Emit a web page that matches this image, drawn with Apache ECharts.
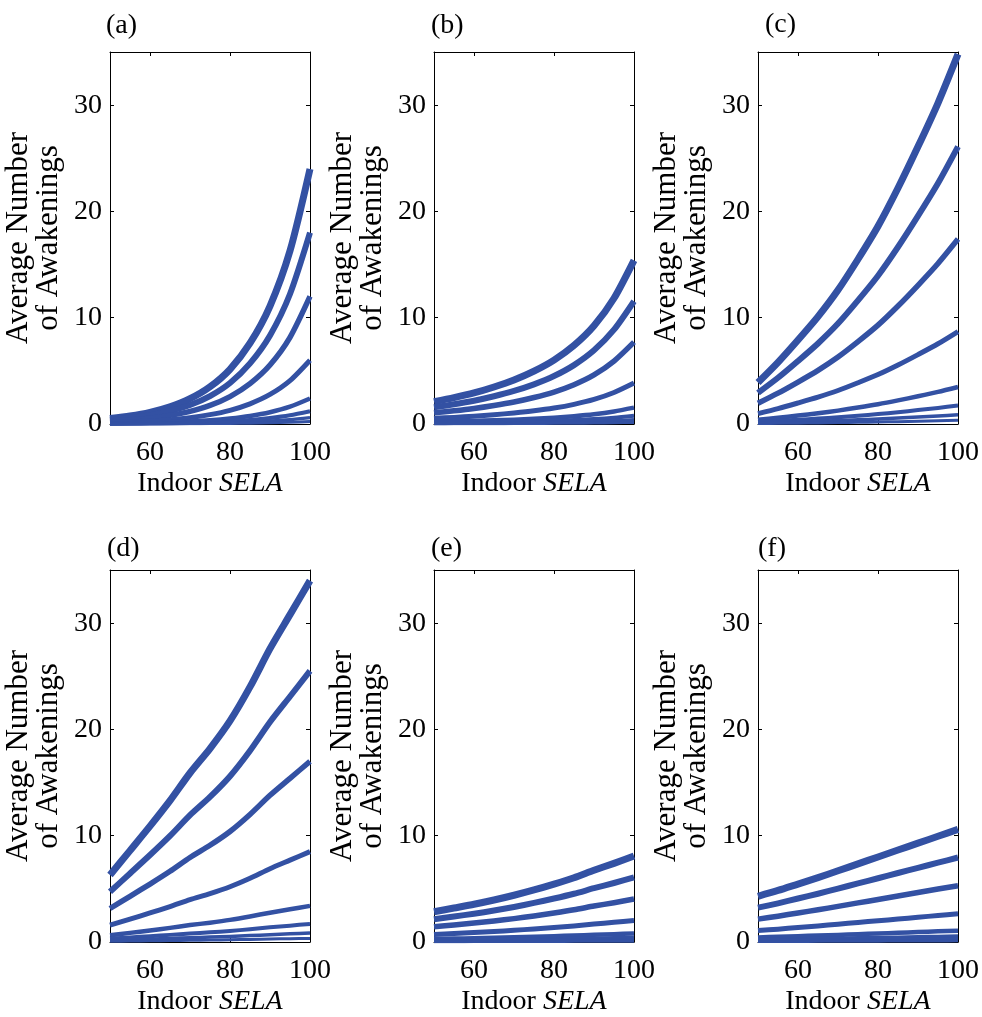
<!DOCTYPE html>
<html>
<head>
<meta charset="utf-8">
<script src="https://cdn.jsdelivr.net/npm/echarts@6/dist/echarts.min.js"></script>
<style>
  html, body { margin: 0; padding: 0; background: #fff; }
  #chart { width: 982px; height: 1017px; }
</style>
</head>
<body>
<div id="chart"></div>
<script>
// Indoor SELA (dB) sample points shared by every curve
const sela = [50, 55, 60, 65, 70, 75, 80, 85, 90, 95, 100];

// Average number of awakenings, eight curves per panel (top to bottom)
const panelA = [
  [0.51, 0.75, 1.1, 1.62, 2.38, 3.5, 5.15, 7.6, 11.1, 16.3, 24.0],
  [0.38, 0.56, 0.83, 1.22, 1.79, 2.63, 3.86, 5.7, 8.33, 12.23, 18.0],
  [0.26, 0.38, 0.55, 0.81, 1.19, 1.75, 2.58, 3.8, 5.55, 8.15, 12.0],
  [0.13, 0.19, 0.28, 0.41, 0.6, 0.88, 1.29, 1.9, 2.78, 4.08, 6.0],
  [0.05, 0.08, 0.11, 0.16, 0.24, 0.35, 0.52, 0.76, 1.11, 1.63, 2.4],
  [0.03, 0.04, 0.06, 0.08, 0.12, 0.18, 0.26, 0.38, 0.56, 0.82, 1.2],
  [0.01, 0.02, 0.03, 0.04, 0.06, 0.09, 0.13, 0.19, 0.28, 0.41, 0.6],
  [0.01, 0.01, 0.01, 0.02, 0.02, 0.04, 0.05, 0.08, 0.11, 0.16, 0.24]
];
const panelB = [
  [2.1, 2.48, 2.92, 3.48, 4.14, 4.97, 6.01, 7.39, 9.24, 11.83, 15.4],
  [1.58, 1.86, 2.19, 2.61, 3.11, 3.73, 4.51, 5.54, 6.93, 8.87, 11.55],
  [1.05, 1.24, 1.46, 1.74, 2.07, 2.49, 3.01, 3.7, 4.62, 5.92, 7.7],
  [0.53, 0.62, 0.73, 0.87, 1.04, 1.24, 1.5, 1.85, 2.31, 2.96, 3.85],
  [0.21, 0.25, 0.29, 0.35, 0.41, 0.5, 0.6, 0.74, 0.92, 1.18, 1.54],
  [0.11, 0.12, 0.15, 0.17, 0.21, 0.25, 0.3, 0.37, 0.46, 0.59, 0.77],
  [0.05, 0.06, 0.07, 0.09, 0.1, 0.12, 0.15, 0.18, 0.23, 0.3, 0.39],
  [0.02, 0.02, 0.03, 0.03, 0.04, 0.05, 0.06, 0.07, 0.09, 0.12, 0.15]
];
const panelC = [
  [3.9, 5.8, 7.9, 10.1, 12.6, 15.5, 18.6, 22.2, 26.1, 30.2, 34.8],
  [2.93, 4.35, 5.93, 7.58, 9.45, 11.63, 13.95, 16.65, 19.58, 22.65, 26.1],
  [1.95, 2.9, 3.95, 5.05, 6.3, 7.75, 9.3, 11.1, 13.05, 15.1, 17.4],
  [0.98, 1.45, 1.98, 2.53, 3.15, 3.88, 4.65, 5.55, 6.53, 7.55, 8.7],
  [0.39, 0.58, 0.79, 1.01, 1.26, 1.55, 1.86, 2.22, 2.61, 3.02, 3.48],
  [0.2, 0.29, 0.4, 0.51, 0.63, 0.78, 0.93, 1.11, 1.31, 1.51, 1.74],
  [0.1, 0.15, 0.2, 0.25, 0.32, 0.39, 0.47, 0.56, 0.65, 0.76, 0.87],
  [0.04, 0.06, 0.08, 0.1, 0.13, 0.16, 0.19, 0.22, 0.26, 0.3, 0.35]
];
const panelD = [
  [6.3, 8.6, 10.9, 13.3, 15.9, 18.2, 20.8, 24.0, 27.6, 30.8, 34.0],
  [4.73, 6.45, 8.18, 9.98, 11.93, 13.65, 15.6, 18.0, 20.7, 23.1, 25.5],
  [3.15, 4.3, 5.45, 6.65, 7.95, 9.1, 10.4, 12.0, 13.8, 15.4, 17.0],
  [1.58, 2.15, 2.73, 3.33, 3.98, 4.55, 5.2, 6.0, 6.9, 7.7, 8.5],
  [0.63, 0.86, 1.09, 1.33, 1.59, 1.82, 2.08, 2.4, 2.76, 3.08, 3.4],
  [0.32, 0.43, 0.55, 0.67, 0.8, 0.91, 1.04, 1.2, 1.38, 1.54, 1.7],
  [0.16, 0.22, 0.27, 0.33, 0.4, 0.46, 0.52, 0.6, 0.69, 0.77, 0.85],
  [0.06, 0.09, 0.11, 0.13, 0.16, 0.18, 0.21, 0.24, 0.28, 0.31, 0.34]
];
const panelE = [
  [2.85, 3.2, 3.55, 3.95, 4.4, 4.9, 5.45, 6.05, 6.75, 7.4, 8.1],
  [2.14, 2.4, 2.66, 2.96, 3.3, 3.68, 4.09, 4.54, 5.06, 5.55, 6.08],
  [1.43, 1.6, 1.78, 1.98, 2.2, 2.45, 2.73, 3.03, 3.38, 3.7, 4.05],
  [0.71, 0.8, 0.89, 0.99, 1.1, 1.23, 1.36, 1.51, 1.69, 1.85, 2.03],
  [0.29, 0.32, 0.36, 0.4, 0.44, 0.49, 0.55, 0.61, 0.68, 0.74, 0.81],
  [0.14, 0.16, 0.18, 0.2, 0.22, 0.25, 0.27, 0.3, 0.34, 0.37, 0.41],
  [0.07, 0.08, 0.09, 0.1, 0.11, 0.12, 0.14, 0.15, 0.17, 0.19, 0.2],
  [0.03, 0.03, 0.04, 0.04, 0.04, 0.05, 0.05, 0.06, 0.07, 0.07, 0.08]
];
const panelF = [
  [4.3, 4.85, 5.45, 6.05, 6.7, 7.35, 8.0, 8.65, 9.3, 9.95, 10.6],
  [3.23, 3.64, 4.09, 4.54, 5.03, 5.51, 6.0, 6.49, 6.98, 7.46, 7.95],
  [2.15, 2.43, 2.73, 3.03, 3.35, 3.68, 4.0, 4.33, 4.65, 4.98, 5.3],
  [1.08, 1.21, 1.36, 1.51, 1.68, 1.84, 2.0, 2.16, 2.33, 2.49, 2.65],
  [0.43, 0.49, 0.55, 0.61, 0.67, 0.74, 0.8, 0.87, 0.93, 1.0, 1.06],
  [0.22, 0.24, 0.27, 0.3, 0.34, 0.37, 0.4, 0.43, 0.47, 0.5, 0.53],
  [0.11, 0.12, 0.14, 0.15, 0.17, 0.18, 0.2, 0.22, 0.23, 0.25, 0.27],
  [0.04, 0.05, 0.05, 0.06, 0.07, 0.07, 0.08, 0.09, 0.09, 0.1, 0.11]
];

const panelLabels = ['(a)', '(b)', '(c)', '(d)', '(e)', '(f)'];
const panels = [panelA, panelB, panelC, panelD, panelE, panelF];

const xTicks = [60, 80, 100];
const xTicksTop = [60, 80];
const yTicks = [0, 10, 20, 30];
const yTicksRight = [10, 20, 30];

const FONT = '"Liberation Serif", "Times New Roman", serif';
const BLUE = '#3351a3';
const lineWidths = [7, 6, 5.5, 5, 4.5, 4, 3.5, 3];

// plot boxes: [left, top] of each panel, all 200 x 372
const boxes = [
  [110, 52], [434, 52], [758, 52],
  [110, 570], [434, 570], [758, 570]
];
const labelPos = [
  [106, 12], [431, 12], [765, 11],
  [107, 535], [431, 535], [758, 535]
];

const grid = [], xAxis = [], yAxis = [], series = [], title = [];
const textBase = { fontFamily: FONT, fontSize: 28, color: '#000' };

boxes.forEach(([l, t], i) => {
  grid.push({ left: l, top: t, width: 200, height: 372, containLabel: false });

  // bottom x axis with labels
  xAxis.push({
    type: 'value', gridIndex: i, min: 50, max: 100, position: 'bottom',
    axisLine: { show: true, onZero: false, lineStyle: { color: '#000', width: 1 } },
    axisTick: { show: true, inside: true, length: 4, customValues: xTicks, lineStyle: { color: '#000' } },
    axisLabel: { customValues: xTicks, margin: 15, ...textBase },
    splitLine: { show: false },
    name: 'Indoor {i|SELA}', nameLocation: 'middle', nameGap: 46,
    nameTextStyle: { ...textBase, rich: { i: { ...textBase, fontStyle: 'italic' } } }
  });
  // top x axis: frame edge + mirrored ticks
  xAxis.push({
    type: 'value', gridIndex: i, min: 50, max: 100, position: 'top',
    axisLine: { show: true, onZero: false, lineStyle: { color: '#000', width: 1 } },
    axisTick: { show: true, inside: true, length: 4, customValues: xTicksTop, lineStyle: { color: '#000' } },
    axisLabel: { show: false }, splitLine: { show: false }
  });
  // left y axis with labels
  yAxis.push({
    type: 'value', gridIndex: i, min: 0, max: 35, position: 'left',
    axisLine: { show: true, onZero: false, lineStyle: { color: '#000', width: 1 } },
    axisTick: { show: true, inside: true, length: 4, customValues: yTicks, lineStyle: { color: '#000' } },
    axisLabel: { customValues: yTicks, margin: 8, ...textBase },
    splitLine: { show: false },
    name: 'Average Number\nof Awakenings', nameLocation: 'middle', nameRotate: 90, nameGap: 46,
    nameTextStyle: { ...textBase, fontSize: 31, lineHeight: 30 }
  });
  // right y axis: frame edge + mirrored ticks
  yAxis.push({
    type: 'value', gridIndex: i, min: 0, max: 35, position: 'right',
    axisLine: { show: true, onZero: false, lineStyle: { color: '#000', width: 1 } },
    axisTick: { show: true, inside: true, length: 4, customValues: yTicksRight, lineStyle: { color: '#000' } },
    axisLabel: { show: false }, splitLine: { show: false }
  });

  title.push({
    text: panelLabels[i], left: labelPos[i][0], top: labelPos[i][1], padding: 0,
    textStyle: { ...textBase, fontWeight: 'normal' }
  });

  panels[i].forEach((curve, k) => {
    series.push({
      type: 'line',
      xAxisIndex: 2 * i, yAxisIndex: 2 * i,
      data: sela.map((x, j) => [x, curve[j]]),
      showSymbol: false, symbol: 'none',
      smooth: 0.25,
      lineStyle: { color: BLUE, width: lineWidths[k], cap: 'butt', join: 'round' },
      clip: true, silent: true, animation: false, z: 2
    });
  });
});

const chart = echarts.init(document.getElementById('chart'), null, { renderer: 'canvas' });
chart.setOption({
  backgroundColor: '#fff',
  animation: false,
  title, grid, xAxis, yAxis, series
});
</script>
</body>
</html>
